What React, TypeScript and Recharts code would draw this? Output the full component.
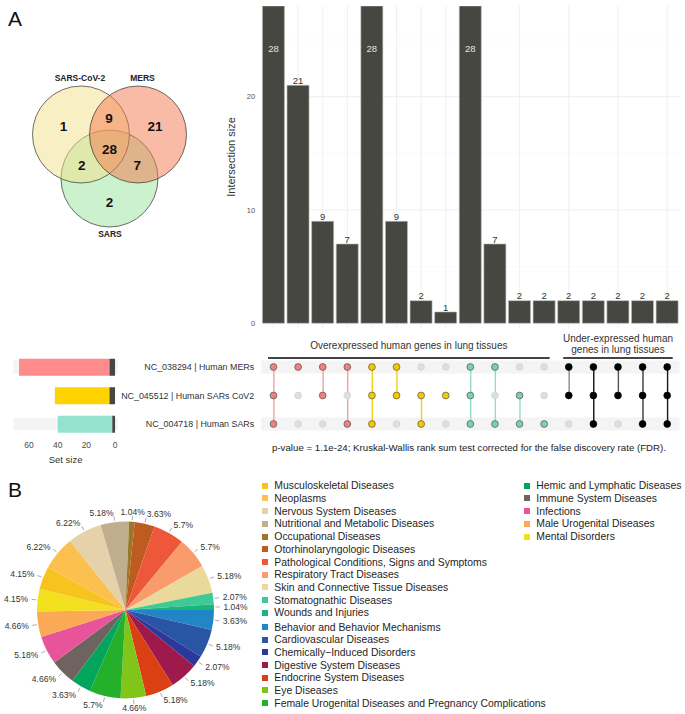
import React from 'react';
import {
  BarChart, Bar, XAxis, YAxis, CartesianGrid, LabelList, ComposedChart, Line,
  ScatterChart, Scatter, PieChart, Pie, Cell, ReferenceArea, ReferenceLine,
} from 'recharts';

const FONT = '"Liberation Sans", Arial, Helvetica, sans-serif';

// ---- panel A: venn counts
const vennSetNames = ['SARS-CoV-2', 'MERS', 'SARS'];
const vennRegionCounts = [1, 9, 21, 28, 2, 7, 2];

// ---- panel A: upset data
const intersectionIds = ['c1', 'c2', 'c3', 'c4', 'c5', 'c6', 'c7', 'c8', 'c9', 'c10', 'c11', 'c12', 'c13', 'c14', 'c15', 'c16', 'c17'];
const intersectionSizes = [28, 21, 9, 7, 28, 9, 2, 1, 28, 7, 2, 2, 2, 2, 2, 2, 2];
const inMERs = [1, 1, 1, 1, 1, 1, 0, 0, 1, 1, 0, 0, 1, 1, 1, 1, 1];
const inCoV2 = [1, 0, 1, 0, 1, 1, 1, 1, 1, 0, 1, 0, 1, 1, 1, 1, 1];
const inSARs = [1, 0, 0, 1, 1, 0, 1, 0, 1, 1, 1, 1, 0, 1, 0, 1, 1];
const intersectionGroup = ['mers', 'mers', 'mers', 'mers', 'cov2', 'cov2', 'cov2', 'cov2', 'sars', 'sars', 'sars', 'sars', 'under', 'under', 'under', 'under', 'under'];

const setKeys = ['MERs', 'CoV2', 'SARs'];
const setLabels = ['NC_038294 | Human MERs', 'NC_045512 | Human SARs CoV2', 'NC_004718 | Human SARs'];
const setOver = [63, 38, 38];
const setUnder = [4, 4, 2];

const groupTitles = {
  over: ['Overexpressed human genes in lung tissues'],
  under: ['Under-expressed human', 'genes in lung tissues'],
};
const pValueText = 'p-value = 1.1e-24; Kruskal-Wallis rank sum test corrected for the false discovery rate (FDR).';

// ---- panel B: disease categories
const diseaseNames = [
  'Behavior and Behavior Mechanisms', 'Cardiovascular Diseases', 'Chemically\u2212Induced Disorders',
  'Digestive System Diseases', 'Endocrine System Diseases', 'Eye Diseases',
  'Female Urogenital Diseases and Pregnancy Complications', 'Hemic and Lymphatic Diseases',
  'Immune System Diseases', 'Infections', 'Male Urogenital Diseases', 'Mental Disorders',
  'Musculoskeletal Diseases', 'Neoplasms', 'Nervous System Diseases',
  'Nutritional and Metabolic Diseases', 'Occupational Diseases', 'Otorhinolaryngologic Diseases',
  'Pathological Conditions, Signs and Symptoms', 'Respiratory Tract Diseases',
  'Skin and Connective Tissue Diseases', 'Stomatognathic Diseases', 'Wounds and Injuries',
];
const diseasePercents = [3.63, 5.18, 2.07, 5.18, 5.18, 4.66, 5.7, 3.63, 4.66, 5.18, 4.66, 4.15, 4.15, 6.22, 6.22, 5.18, 1.04, 3.63, 5.7, 5.7, 5.18, 2.07, 1.04];
const legendCol1 = [12, 13, 14, 15, 16, 17, 18, 19, 20, 21, 22];
const legendCol1b = [0, 1, 2, 3, 4, 5, 6];
const legendCol2 = [7, 8, 9, 10, 11];

// ---- styles
const diseaseColors = ['#2186C6', '#2A55A6', '#2C399A', '#9F1A4C', '#DB4015', '#82C51A', '#24B02B', '#03A55D', '#6F6360', '#E7549A', '#FBA955', '#F2E01E', '#F7C41F', '#FBC04F', '#E6D2AA', '#C0AE8E', '#9B7828', '#BE5B1E', '#EE583A', '#FA9B6C', '#E9DA9B', '#3FC995', '#19B57F'];
const vennFills = ['#F1E189', '#F3774B', '#97E39B'];
const setBarColors = ['#FF8C8C', '#FFD300', '#93E3CE'];
const dotColors: Record<string, string> = { mers: '#F08080', cov2: '#F5C800', sars: '#7ACFB8', under: '#000000' };
const linkColors: Record<string, string> = { mers: '#F4A0A0', cov2: '#F2CF1A', sars: '#93DCCA', under: '#222222' };
const underLinkColors = ['#8A8A8A', '#111111', '#555555', '#3A3A3A', '#1A1A1A'];
const BAR_FILL = '#474742';

// venn layout (units of one circle radius)
const VENN_XD: [number, number] = [-2.258, 2.485];
const VENN_YD: [number, number] = [-2.773, 2.381];
const VENN_UNIT = 230 / (VENN_XD[1] - VENN_XD[0]);
const vennCircleAt = [[-0.588, 0], [0.588, 0], [0, 0.907]];
const vennNameAt = [[-0.61, -1.16], [0.68, -1.16], [0.01, 2.05]];
const vennCountAt = [[-0.95, -0.16], [-0.01, -0.34], [0.94, -0.16], [0, 0.3], [-0.57, 0.63], [0.57, 0.63], [0, 1.41]];

const membership = [inMERs, inCoV2, inSARs];

const barData = intersectionIds.map((id, i) => ({ id, size: intersectionSizes[i] }));

const matrixData = intersectionIds.map((id, i) => {
  const rows = membership.map((m, k) => (m[i] ? 3 - k : null)).filter((v) => v !== null) as number[];
  const lo = Math.min(...rows);
  const hi = Math.max(...rows);
  return { id, span: lo === hi ? null : [lo, hi], yMERs: 3, yCoV2: 2, ySARs: 1 };
});

const setData = setKeys.map((key, i) => ({ key, over: setOver[i], under: setUnder[i] }));

const pieData = diseaseNames.map((name, i) => ({ name, value: diseasePercents[i] }));

const vennCircles = [2, 0, 1].map((i) => ({ x: vennCircleAt[i][0], y: vennCircleAt[i][1], fill: vennFills[i] }));
const vennNames = vennSetNames.map((name, i) => ({ x: vennNameAt[i][0], y: vennNameAt[i][1], name }));
const vennCounts = vennRegionCounts.map((n, i) => ({ x: vennCountAt[i][0], y: vennCountAt[i][1], n }));

function VennPanel() {
  return (
    <div style={{ position: 'absolute', left: 0, top: 0 }}>
      <ScatterChart width={230} height={250} margin={{ top: 0, right: 0, bottom: 0, left: 0 }}>
        <XAxis type="number" dataKey="x" domain={VENN_XD} allowDataOverflow hide />
        <YAxis type="number" dataKey="y" domain={VENN_YD} allowDataOverflow reversed hide />
        <Scatter data={vennCircles} isAnimationActive={false}
          shape={(p: any) => (
            <circle cx={p.cx} cy={p.cy} r={VENN_UNIT} fill={p.payload.fill} fillOpacity={0.5} stroke="#333" strokeWidth={0.7} />
          )} />
        <Scatter data={vennNames} isAnimationActive={false}
          shape={(p: any) => (
            <text x={p.cx} y={p.cy} textAnchor="middle" dominantBaseline="central" fontSize={8.5} fontWeight="bold" fill="#222">{p.payload.name}</text>
          )} />
        <Scatter data={vennCounts} isAnimationActive={false}
          shape={(p: any) => (
            <text x={p.cx} y={p.cy} textAnchor="middle" dominantBaseline="central" fontSize={13.5} fontWeight="bold" fill="#111">{p.payload.n}</text>
          )} />
      </ScatterChart>
    </div>
  );
}

const renderBarLabel = (p: any) => {
  const top = p.value >= 28;
  return (
    <text x={p.x + p.width / 2} y={top ? p.y + 46.3 : p.y - 1.2} textAnchor="middle" fontSize={9.5} fill={top ? '#E4E4E4' : '#333'}>
      {p.value}
    </text>
  );
};

function IntersectionBars() {
  return (
    <div style={{ position: 'absolute', left: 215, top: 0 }}>
      <BarChart width={470} height={330} data={barData} margin={{ top: 6, right: 5.5, bottom: 1.6, left: 0 }} barCategoryGap="5%">
        <CartesianGrid stroke="#F6F6F6" strokeWidth={0.6} vertical={false} horizontalValues={[5, 15, 25]} syncWithTicks />
        <CartesianGrid stroke="#EBEBEB" strokeWidth={0.8} syncWithTicks />
        <XAxis dataKey="id" hide />
        <YAxis type="number" domain={[-0.45, 28]} allowDataOverflow ticks={[0, 10, 20]} width={46.2}
          axisLine={false} tickLine={false} tickSize={4} tickMargin={2} tick={{ fontSize: 7.5, fill: '#555' }}
          label={{
            content: () => (
              <text x={15.5} y={157} transform="rotate(-90 15.5 157)" textAnchor="middle" dominantBaseline="central" fontSize={11} fill="#333">
                Intersection size
              </text>
            ),
          }} />
        <Bar dataKey="size" fill={BAR_FILL} stroke="#B8B8B8" strokeWidth={0.6} isAnimationActive={false}>
          <LabelList dataKey="size" content={renderBarLabel} />
        </Bar>
      </BarChart>
    </div>
  );
}

const stripeShape = (p: any) => (
  <rect x={p.x} y={p.y + p.height / 2 - 6.4} width={p.width} height={12.8} fill="#F4F4F4" />
);

function SetSizeBars() {
  return (
    <div style={{ position: 'absolute', left: 0, top: 325 }}>
      <BarChart layout="vertical" width={120} height={140} data={setData} margin={{ top: 27.75, right: 2.1, bottom: 0, left: 13.3 }}>
        <ReferenceArea y1="MERs" y2="MERs" x1={71} x2={-2} shape={stripeShape} ifOverflow="visible" />
        <ReferenceArea y1="SARs" y2="SARs" x1={71} x2={-2} shape={stripeShape} ifOverflow="visible" />
        <XAxis type="number" domain={[-2, 71]} allowDataOverflow reversed ticks={[0, 20, 40, 60]} height={26.75}
          axisLine={false} tickLine={false} tickSize={0} tickMargin={3.5} tick={{ fontSize: 8.5, fill: '#4D4D4D' }}
          label={{ value: 'Set size', position: 'insideBottom', offset: 2.5, fontSize: 9.5, fill: '#333' }} />
        <YAxis type="category" dataKey="key" hide />
        <Bar dataKey="under" stackId="s" fill={BAR_FILL} barSize={17} isAnimationActive={false} />
        <Bar dataKey="over" stackId="s" barSize={17} isAnimationActive={false}>
          {setData.map((d, i) => <Cell key={d.key} fill={setBarColors[i]} />)}
        </Bar>
      </BarChart>
    </div>
  );
}

const groupHeader = (lines: string[], offsets: number[]) => (p: any) => {
  const x1 = p.x1 - 5.5;
  const x2 = p.x2 + 5.5;
  const mid = (x1 + x2) / 2;
  return (
    <g>
      <line x1={x1} x2={x2} y1={p.y1} y2={p.y1} stroke="#444" strokeWidth={2} />
      {lines.map((t, k) => (
        <text key={t} x={mid} y={p.y1 - offsets[k]} textAnchor="middle" dominantBaseline="central" fontSize={10} fill="#333">{t}</text>
      ))}
    </g>
  );
};

const SetTick = (p: any) => (
  <text x={p.x} y={p.y} textAnchor="end" dominantBaseline="central" fontSize={8.9} fill="#333">
    {setLabels[3 - p.payload.value]}
  </text>
);

const makeDot = (setIdx: number) => (p: any) => {
  const i = p.index;
  const on = membership[setIdx][i] === 1;
  const grp = intersectionGroup[i];
  const fill = on ? dotColors[grp] : '#DEDEDE';
  const stroke = on ? (grp === 'under' ? '#000' : '#555') : '#D2D2D2';
  return <circle key={`d${setIdx}-${i}`} cx={p.cx} cy={p.cy} r={3.4} fill={fill} stroke={stroke} strokeWidth={0.7} />;
};

function MatrixPanel() {
  let u = 0;
  const linkFill = intersectionGroup.map((g) => (g === 'under' ? underLinkColors[u++] : linkColors[g]));
  return (
    <div style={{ position: 'absolute', left: 105, top: 325 }}>
      <ComposedChart width={580} height={115} data={matrixData} margin={{ top: 27.75, right: 5.5, bottom: 1.75, left: 0 }} barCategoryGap="5%">
        <XAxis dataKey="id" hide />
        <YAxis type="number" domain={[0.5, 3.5]} allowDataOverflow ticks={[1, 2, 3]} width={156.2}
          axisLine={false} tickLine={false} tickSize={0} tickMargin={7} tick={<SetTick />} />
        <ReferenceArea y1={2.775} y2={3.225} fill="#F4F4F4" fillOpacity={1} stroke="none" />
        <ReferenceArea y1={0.775} y2={1.225} fill="#F4F4F4" fillOpacity={1} stroke="none" />
        <ReferenceLine segment={[{ x: 'c1', y: 3.316 }, { x: 'c12', y: 3.316 }]} shape={groupHeader(groupTitles.over, [12.3])} />
        <ReferenceLine segment={[{ x: 'c13', y: 3.316 }, { x: 'c17', y: 3.316 }]} shape={groupHeader(groupTitles.under, [19.5, 8.3])} />
        <Bar dataKey="span" barSize={1.4} isAnimationActive={false}>
          {matrixData.map((d, i) => <Cell key={d.id} fill={linkFill[i]} />)}
        </Bar>
        <Line dataKey="yMERs" stroke="none" dot={makeDot(0)} activeDot={false} isAnimationActive={false} />
        <Line dataKey="yCoV2" stroke="none" dot={makeDot(1)} activeDot={false} isAnimationActive={false} />
        <Line dataKey="ySARs" stroke="none" dot={makeDot(2)} activeDot={false} isAnimationActive={false} />
      </ComposedChart>
    </div>
  );
}

const RAD = Math.PI / 180;
const renderPieLabel = (p: any) => {
  const c = Math.cos(-p.midAngle * RAD);
  const s = Math.sin(-p.midAngle * RAD);
  const R = p.outerRadius + 9.5;
  const anchor = Math.abs(c) < 0.1 ? 'middle' : c > 0 ? 'start' : 'end';
  return (
    <text x={p.cx + R * c} y={p.cy + R * s} textAnchor={anchor} dominantBaseline="central" fontSize={8.5} fill="#333">
      {`${p.value}%`}
    </text>
  );
};
const renderPieLine = (p: any) => {
  const c = Math.cos(-p.midAngle * RAD);
  const s = Math.sin(-p.midAngle * RAD);
  const r1 = p.outerRadius + 1.5;
  const r2 = p.outerRadius + 6;
  return <line x1={p.cx + r1 * c} y1={p.cy + r1 * s} x2={p.cx + r2 * c} y2={p.cy + r2 * s} stroke="#888" strokeWidth={0.7} />;
};

function DiseasePie() {
  return (
    <div style={{ position: 'absolute', left: 0, top: 470 }}>
      <PieChart width={250} height={244} margin={{ top: 0, right: 0, bottom: 0, left: 0 }}>
        <Pie data={pieData} dataKey="value" nameKey="name" cx={125.5} cy={140} outerRadius={88.5}
          startAngle={0} endAngle={-360} label={renderPieLabel} labelLine={renderPieLine} isAnimationActive={false}>
          {pieData.map((d, i) => <Cell key={d.name} fill={diseaseColors[i]} stroke="none" />)}
        </Pie>
      </PieChart>
    </div>
  );
}

function LegendItem({ idx, left, yc }: { idx: number; left: number; yc: number }) {
  return (
    <div style={{ position: 'absolute', left, top: yc - 6.5, height: 13, display: 'flex', alignItems: 'center', whiteSpace: 'nowrap' }}>
      <span style={{ width: 6, height: 6, background: diseaseColors[idx], display: 'inline-block' }} />
      <span style={{ marginLeft: 6.8, fontSize: 10.4, color: '#1E1E1E', lineHeight: '13px' }}>{diseaseNames[idx]}</span>
    </div>
  );
}

function DiseaseLegend() {
  const step = 12.72;
  return (
    <>
      {legendCol1.map((idx, k) => <LegendItem key={idx} idx={idx} left={261.5} yc={485.7 + k * step} />)}
      {legendCol1b.map((idx, k) => <LegendItem key={idx} idx={idx} left={261.5} yc={627 + k * 12.67} />)}
      {legendCol2.map((idx, k) => <LegendItem key={idx} idx={idx} left={523.5} yc={485.7 + k * step} />)}
    </>
  );
}

export default function App() {
  return (
    <div style={{ position: 'absolute', left: 0, top: 0, width: 685, height: 714, background: '#fff', fontFamily: FONT, overflow: 'hidden' }}>
      <div style={{ position: 'absolute', left: 8, top: 6.5, fontSize: 21, lineHeight: '24px', color: '#111' }}>A</div>
      <VennPanel />
      <IntersectionBars />
      <SetSizeBars />
      <MatrixPanel />
      <div style={{ position: 'absolute', left: 272, top: 442, fontSize: 9.7, lineHeight: '12px', color: '#222', whiteSpace: 'nowrap' }}>
        {pValueText}
      </div>
      <div style={{ position: 'absolute', left: 8, top: 477.5, fontSize: 21, lineHeight: '24px', color: '#111' }}>B</div>
      <DiseasePie />
      <DiseaseLegend />
    </div>
  );
}
